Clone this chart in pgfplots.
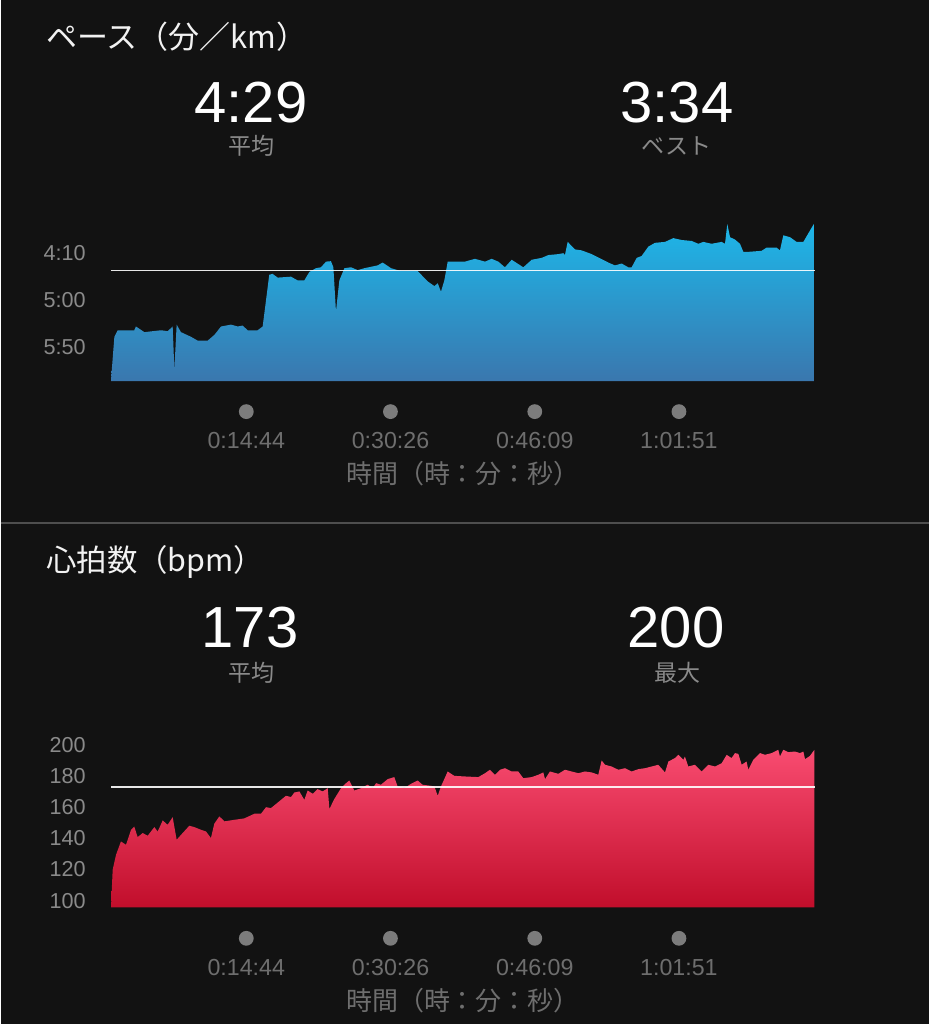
\documentclass[border=0pt]{standalone}
\usepackage{fontspec}
\setmainfont{Liberation Sans}
\newfontfamily\jp{Noto Sans CJK JP}
\usepackage{pgfplots}
\pgfplotsset{compat=1.18}
\definecolor{bg}{HTML}{121212}
\definecolor{sepc}{HTML}{4E4E4E}
\definecolor{tickgray}{HTML}{6E6E6E}
\definecolor{dotgray}{HTML}{7C7C7C}
\definecolor{labgray}{HTML}{8A8A8A}
\definecolor{titlewhite}{HTML}{F2F2F2}
\definecolor{paceTop}{HTML}{1DB7E9}
\definecolor{paceBot}{HTML}{3A77AE}
\definecolor{hrTop}{HTML}{F84B70}
\definecolor{hrBot}{HTML}{C10E2B}
\newcommand{\tl}[1]{\tikz\fill[dotgray] (0,0) circle[radius=3.7pt];\\#1}
\pgfplotsset{runstyle/.style={
  scale only axis, width=352pt, height=83pt,
  anchor=south west,
  xmin=0, xmax=4600,
  axis line style={draw=none},
  major tick length=0pt,
  /pgf/number format/assume math mode=true,
  xtick={884,1826,2769,3711},
  xticklabels={\tl{0:14:44},\tl{0:30:26},\tl{0:46:09},\tl{1:01:51}},
  xticklabel style={font=\fontsize{11.6}{14.75}\selectfont, text=tickgray, align=center, anchor=north, inner sep=0pt, yshift=-11.4pt},
  yticklabel style={font=\fontsize{10.8}{12}\selectfont, text=labgray, anchor=east, inner sep=0pt, xshift=-12.5pt},
  xlabel={\jp 時間（時：分：秒）},
  xlabel style={at={(axis description cs:0.5,0)}, anchor=center, inner sep=0pt, yshift=-46.5pt, font=\fontsize{13}{15}\selectfont, text=tickgray},
  avg/.style={white, opacity=0.9, line width=0.8pt},
}}
\begin{document}
\begin{tikzpicture}
\fill[bg] (0,0) rectangle (464pt,-512pt);
\draw[sepc, line width=1pt] (0,-261.7pt) -- (464pt,-261.7pt);
% ---------- pace header
\node[anchor=west, inner sep=0pt, text=titlewhite, font=\jp\fontsize{15.5}{17}\selectfont] at (22.5pt,-18.5pt) {ペース（分／km）};
\node[inner sep=0pt, text=white, font=\fontsize{29}{32}\selectfont] at (125pt,-51.25pt) {4:29};
\node[inner sep=0pt, text=white, font=\fontsize{29}{32}\selectfont] at (338pt,-51.25pt) {3:34};
\node[inner sep=0pt, text=labgray, font=\jp\fontsize{11.5}{13}\selectfont] at (125.25pt,-73pt) {平均};
\node[inner sep=0pt, text=labgray, font=\jp\fontsize{11.5}{13}\selectfont] at (337.75pt,-73pt) {ベスト};
% ---------- HR header
\node[anchor=west, inner sep=0pt, text=titlewhite, font=\jp\fontsize{15.2}{17}\selectfont] at (22.5pt,-281pt) {心拍数（bpm）};
\node[inner sep=0pt, text=white, font=\fontsize{29}{32}\selectfont] at (124.5pt,-313.75pt) {173};
\node[inner sep=0pt, text=white, font=\fontsize{29}{32}\selectfont] at (337.5pt,-313.75pt) {200};
\node[inner sep=0pt, text=labgray, font=\jp\fontsize{11.5}{13}\selectfont] at (125pt,-336.5pt) {平均};
\node[inner sep=0pt, text=labgray, font=\jp\fontsize{11.5}{13}\selectfont] at (338pt,-336.5pt) {最大};
% ---------- pace chart
\begin{axis}[runstyle, at={(55pt,-190.5pt)},
  ymin=209.4, ymax=386, y dir=reverse,
  ytick={250,300,350}, yticklabels={4:10,5:00,5:50}]
\addplot[draw=none, top color=paceTop, bottom color=paceBot] coordinates {
(0,386) (0,385) (22,339) (44,332) (152,332) (163,328) (218,334) (327,332) (370,333) (403,328) (414,374) (429,326)
(457,334) (523,339) (566,343) (632,343) (675,337) (719,328) (784,326) (828,328) (860,327) (893,332) (958,332)
(991,328) (1013,300) (1034,273) (1056,272) (1089,276) (1176,275) (1220,279) (1263,279) (1296,270) (1339,266)
(1372,265) (1405,259) (1437,258.5) (1453,265) (1470,312) (1492,279) (1525,266) (1568,265) (1612,268) (1655,266)
(1742,263) (1775,260) (1830,266) (1895,269) (2004,269) (2069,280) (2113,285) (2135,282) (2156,291) (2178,279)
(2200,259) (2313,259) (2378,256) (2444,259) (2487,256) (2531,259) (2574,265) (2618,257) (2694,265) (2749,257)
(2814,255) (2858,252) (2923,251) (2956,250) (2966,252) (2984,238) (3032,246) (3075,247) (3141,251) (3250,260)
(3293,263) (3337,261) (3380,265) (3402,265) (3435,255) (3467,253) (3511,243) (3554,239) (3620,238) (3674,234)
(3729,236) (3794,237) (3838,240) (3870,238) (3925,240) (3990,238) (4012,240) (4027,219) (4045,233) (4077,235.5)
(4110,240) (4132,248.6) (4164,248.6) (4251,247.5) (4284,244) (4349,244) (4371,247) (4393,231) (4437,233)
(4480,238) (4524,238) (4556,229) (4596,218) (4596,386)};
\addplot[avg] coordinates {(0,268.5) (4600,268.5)};
\end{axis}
% ---------- HR chart
\begin{axis}[runstyle, at={(55pt,-453.85pt)},
  ymin=95.5, ymax=202,
  ytick={100,120,140,160,180,200}]
\addplot[draw=none, top color=hrTop, bottom color=hrBot] coordinates {
(0,95.7) (11,119.9) (33,129.5) (65,138) (98,135.9) (131,145.5) (152,147.6) (174,140.8) (207,143.4) (240,141.7)
(283,147.2) (305,144.4) (338,151.5) (370,148.7) (403,153.6) (429,139.1) (468,143.4) (512,148.1) (545,147.2)
(588,145.5) (621,144.4) (653,140.2) (675,149.4) (708,154.1) (741,150.9) (806,151.9) (871,152.8) (937,155.8)
(980,155.8) (1013,160) (1045,159.4) (1111,164.7) (1143,167.3) (1176,166.5) (1198,169.4) (1231,170.1) (1263,164.7)
(1285,170.7) (1318,168.6) (1350,171.6) (1383,170.1) (1416,172.2) (1427,158.8) (1459,165.2) (1503,172.2)
(1536,175.4) (1557,177.1) (1590,170.7) (1634,172.2) (1677,174.4) (1710,172.2) (1732,175.4) (1764,174.4)
(1808,178) (1851,179.3) (1873,173.3) (1917,172.2) (1960,175) (2004,177.1) (2036,174.4) (2091,173.7) (2113,173.3)
(2135,167.3) (2156,173.3) (2200,182.9) (2243,180.1) (2313,179.7) (2400,179.3) (2444,181.8) (2476,184) (2509,180.8)
(2542,184) (2574,185) (2618,182.9) (2661,182.9) (2694,178.6) (2749,179.3) (2792,180.8) (2825,182.3) (2836,178)
(2868,182.9) (2923,181.4) (2966,184) (3010,182.9) (3054,181.8) (3097,182.9) (3141,182.3) (3184,180.8) (3206,190)
(3228,187.2) (3271,186.1) (3315,184) (3358,185) (3402,182.9) (3446,184.4) (3489,185) (3533,186.1) (3576,187.2)
(3620,182.3) (3642,189.3) (3685,191.5) (3707,193.6) (3740,190.4) (3750,192.5) (3772,186.1) (3816,187.2)
(3859,182.9) (3903,187.2) (3947,186.1) (3990,188.2) (4023,193.6) (4055,191.5) (4077,194.7) (4099,194.2)
(4121,187.2) (4153,189.3) (4164,184) (4197,190.4) (4241,194.7) (4273,193.6) (4317,194.7) (4360,196.8)
(4371,192.5) (4393,196.8) (4426,195.3) (4469,195.7) (4502,194.7) (4524,195.7) (4535,190.8) (4567,192.9)
(4596,196.8) (4596,95.7)};
\addplot[avg] coordinates {(0,173) (4600,173)};
\end{axis}
\end{tikzpicture}
\end{document}
